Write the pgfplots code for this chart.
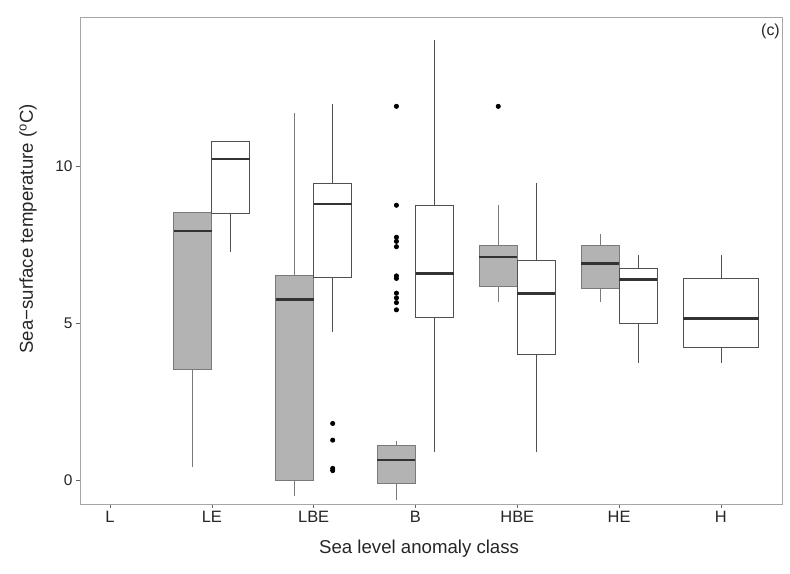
\documentclass[border=0pt]{standalone}
\usepackage{fontspec}
\setmainfont{Liberation Sans}
\usepackage{pgfplots}
\pgfplotsset{compat=1.18}
\usepgfplotslibrary{statistics}
\definecolor{boxgrey}{HTML}{B3B3B3}
\definecolor{bordg}{HTML}{7A7A7A}
\definecolor{bordw}{HTML}{505050}
\definecolor{medc}{HTML}{333333}
\definecolor{framec}{HTML}{A6A6A6}
\pgfplotsset{
  gbox/.style={draw=bordg, fill=boxgrey, line width=0.8bp, solid,
    mark=*, mark size=2.1bp, mark options={fill=black, draw=black, solid}},
  wbox/.style={draw=bordw, fill=white, line width=0.8bp, solid,
    mark=*, mark size=2.1bp, mark options={fill=black, draw=black, solid}},
}
\begin{document}
\begin{tikzpicture}
\path[use as bounding box] (0,0) rectangle (790bp,574bp);
\begin{axis}[
  at={(80bp,70bp)}, anchor=south west,
  scale only axis, width=702bp, height=487bp,
  xmin=-0.295, xmax=6.60, ymin=-0.764, ymax=14.745,
  axis line style={framec, line width=0.9bp},
  xtick={0,...,6}, xticklabels={L,LE,LBE,B,HBE,HE,H},
  ytick={0,5,10},
  xtick pos=bottom, ytick pos=left,
  tick align=outside, major tick length=4bp,
  tick style={color=black!60, line width=0.6bp},
  /pgf/number format/assume math mode=true,
  yticklabel style={font=\fontsize{15.5}{16}\selectfont, text=black!85},
  xticklabel style={font=\fontsize{16.5}{17}\selectfont, text=black!85},
  xlabel={Sea level anomaly class},
  ylabel={Sea−surface temperature (\textsuperscript{o}C)},
  xlabel style={at={([yshift=-45bp]axis description cs:0.483,0)}, anchor=center,
    font=\fontsize{18.7}{20}\selectfont, text=black!85},
  ylabel style={at={([xshift=-52bp]axis description cs:0,0.565)}, anchor=center,
    font=\fontsize{18.7}{20}\selectfont, text=black!85},
  boxplot/draw direction=y,
  boxplot/every median/.style={draw=medc, line width=2.6bp},
  clip=false,
]
% LE
\addplot[gbox, boxplot prepared={draw position=0.813, lower whisker=0.42, lower quartile=3.52, median=7.93, upper quartile=8.51, upper whisker=8.51, box extend=0.373, whisker extend=0}] coordinates {};
\addplot[wbox, boxplot prepared={draw position=1.187, lower whisker=7.27, lower quartile=8.49, median=10.22, upper quartile=10.77, upper whisker=10.77, box extend=0.373, whisker extend=0}] coordinates {};
% LBE
\addplot[gbox, boxplot prepared={draw position=1.813, lower whisker=-0.51, lower quartile=0.0, median=5.75, upper quartile=6.50, upper whisker=11.69, box extend=0.373, whisker extend=0}] coordinates {};
\addplot[wbox, boxplot prepared={draw position=2.187, lower whisker=4.70, lower quartile=6.45, median=8.79, upper quartile=9.45, upper whisker=11.97, box extend=0.373, whisker extend=0}] coordinates {(0,1.80) (0,1.27) (0,0.37) (0,0.30)};
% B
\addplot[gbox, boxplot prepared={draw position=2.813, lower whisker=-0.64, lower quartile=-0.12, median=0.64, upper quartile=1.11, upper whisker=1.25, box extend=0.373, whisker extend=0}] coordinates {(0,11.9) (0,8.75) (0,7.73) (0,7.6) (0,7.43) (0,6.5) (0,6.42) (0,5.95) (0,5.8) (0,5.65) (0,5.42)};
\addplot[wbox, boxplot prepared={draw position=3.187, lower whisker=0.88, lower quartile=5.18, median=6.57, upper quartile=8.75, upper whisker=14.01, box extend=0.373, whisker extend=0}] coordinates {};
% HBE
\addplot[gbox, boxplot prepared={draw position=3.813, lower whisker=5.68, lower quartile=6.15, median=7.10, upper quartile=7.46, upper whisker=8.75, box extend=0.373, whisker extend=0}] coordinates {(0,11.9)};
\addplot[wbox, boxplot prepared={draw position=4.187, lower whisker=0.88, lower quartile=4.00, median=5.94, upper quartile=7.00, upper whisker=9.46, box extend=0.373, whisker extend=0}] coordinates {};
% HE
\addplot[gbox, boxplot prepared={draw position=4.813, lower whisker=5.67, lower quartile=6.09, median=6.90, upper quartile=7.48, upper whisker=7.84, box extend=0.373, whisker extend=0}] coordinates {};
\addplot[wbox, boxplot prepared={draw position=5.187, lower whisker=3.72, lower quartile=4.99, median=6.39, upper quartile=6.73, upper whisker=7.15, box extend=0.373, whisker extend=0}] coordinates {};
% H
\addplot[wbox, boxplot prepared={draw position=6.0, lower whisker=3.72, lower quartile=4.21, median=5.14, upper quartile=6.41, upper whisker=7.15, box extend=0.74, whisker extend=0}] coordinates {};
\node[anchor=north east, inner sep=0pt, font=\fontsize{16}{17}\selectfont, text=black!85] at ([xshift=-2bp,yshift=-7bp]axis description cs:1,1) {(c)};
\end{axis}
\end{tikzpicture}
\end{document}
